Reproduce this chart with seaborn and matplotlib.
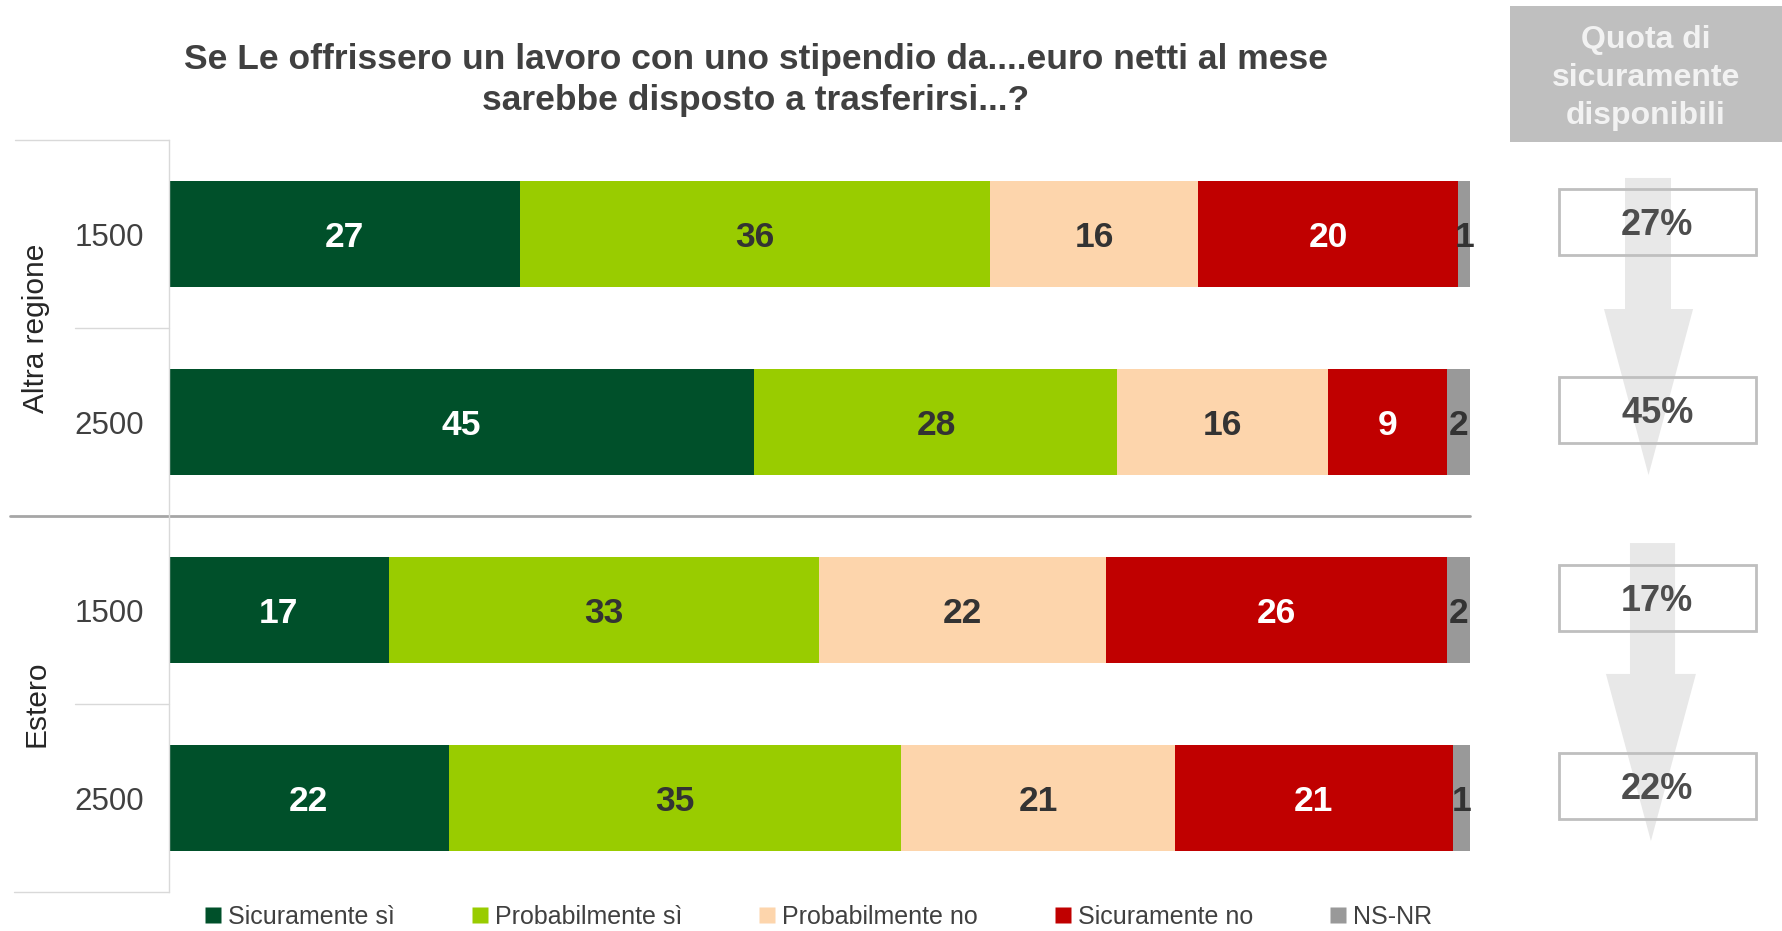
import pandas as pd
import seaborn as sns
import matplotlib.pyplot as plt
import matplotlib.transforms as mtransforms
from matplotlib.patches import Rectangle, Polygon
from matplotlib.lines import Line2D

sns.set_theme(style="white")
plt.rcParams['font.family'] = ['Liberation Sans', 'DejaVu Sans']

gruppi = ["Altra regione", "Altra regione", "Estero", "Estero"]
stipendio = ["1500", "2500", "1500", "2500"]
sicuramente_si = [27.0, 45.0, 16.9, 21.5]
probabilmente_si = [36.1, 27.9, 33.1, 34.8]
probabilmente_no = [16.0, 16.2, 22.0, 21.0]
sicuramente_no = [20.0, 9.1, 26.2, 21.4]
ns_nr = [0.9, 1.8, 1.8, 1.3]

risposte = ["Sicuramente sì", "Probabilmente sì", "Probabilmente no", "Sicuramente no", "NS-NR"]
colori = ["#00502a", "#99cc00", "#fdd5ac", "#c00000", "#999999"]
colori_testo = ["white", "#333333", "#333333", "white", "#333333"]

df = pd.DataFrame({
    "riga": [g + " " + s for g, s in zip(gruppi, stipendio)],
    risposte[0]: sicuramente_si,
    risposte[1]: probabilmente_si,
    risposte[2]: probabilmente_no,
    risposte[3]: sicuramente_no,
    risposte[4]: ns_nr,
})
cum = df[risposte].cumsum(axis=1)
for r in risposte:
    df["cum_" + r] = cum[r]


def arrotonda(v):
    return int(v + 0.5)


fig = plt.figure(figsize=(17.82, 9.31), dpi=100)
ax = fig.add_axes([169 / 1782, 1 - 892 / 931, 1301 / 1782, 752 / 931])

# barre sovrapposte (dalla più lunga alla più corta)
for r, c in reversed(list(zip(risposte, colori))):
    sns.barplot(data=df, x="cum_" + r, y="riga", color=c, saturation=1,
                width=0.56, linewidth=0, errorbar=None, orient="h", ax=ax)

# etichette dei segmenti
for i in range(len(df)):
    start = 0
    for r, tc in zip(risposte, colori_testo):
        v = df.loc[i, r]
        ax.text(start + v / 2, i, f"{arrotonda(v)}", ha="center", va="center_baseline",
                fontsize=25.5, fontweight="bold", color=tc, clip_on=False)
        start += v

ax.set_xlim(0, 100)
ax.set_ylim(3.5, -0.5)
ax.set_xlabel("")
ax.set_ylabel("")
ax.set_xticks([])
ax.set_yticks(range(len(df)))
ax.set_yticklabels(stipendio, fontsize=22.5, color="#404040")
ax.tick_params(axis="y", length=0, pad=18)
for s in ["top", "right", "bottom"]:
    ax.spines[s].set_visible(False)
ax.spines["left"].set_color("#d9d9d9")
ax.spines["left"].set_linewidth(1)

# cornice categorie a sinistra
yt = ax.get_yaxis_transform()
for y0, x0 in [(-0.5, -0.118), (0.5, -0.072), (2.5, -0.072), (3.5, -0.119)]:
    ax.add_line(Line2D([x0, 0], [y0, y0], transform=yt, color="#d9d9d9", lw=1, clip_on=False))
ax.add_line(Line2D([-0.122, 1], [1.5, 1.5], transform=yt, color="#a6a6a6", lw=2, clip_on=False))
for y0, g in [(0.5, "Altra regione"), (2.5, "Estero")]:
    ax.text(-0.102, y0, g, transform=yt, rotation=90, ha="center", va="center",
            fontsize=21.5, color="#262626")

# titolo
fig.text(0.424, 0.914, "Se Le offrissero un lavoro con uno stipendio da....euro netti al mese\n"
         "sarebbe disposto a trasferirsi...?", ha="center", va="center",
         fontsize=25.5, fontweight="bold", color="#404040", linespacing=1.3)

# pannello destro
fig.patches.append(Rectangle((1510 / 1782, 1 - 142 / 931), 272 / 1782, 136 / 931,
                             transform=fig.transFigure, facecolor="#bfbfbf", edgecolor="none"))
fig.text(0.9237, 0.916, "Quota di\nsicuramente\ndisponibili", ha="center", va="center",
         fontsize=23, fontweight="bold", color="#f2f2f2", linespacing=1.36)

bt = mtransforms.blended_transform_factory(fig.transFigure, ax.transData)
frecce = [
    (0.9119, 0.9377, 0.9001, 0.9501, -0.298, 0.399, 1.282),
    (0.9147, 0.9400, 0.9012, 0.9517, 1.644, 2.340, 3.229),
]
for sx0, sx1, hx0, hx1, ytop, yhead, ytip in frecce:
    pts = [(sx0, ytop), (sx1, ytop), (sx1, yhead), (hx1, yhead),
           ((hx0 + hx1) / 2, ytip), (hx0, yhead), (sx0, yhead)]
    ax.add_patch(Polygon(pts, closed=True, transform=bt, facecolor="#e8e8e8",
                         edgecolor="none", clip_on=False, zorder=0.5))

for i, q in enumerate(sicuramente_si):
    yc = i - 0.065
    ax.add_patch(Rectangle((0.8749, yc - 0.175), 0.1105, 0.35, transform=bt,
                           facecolor="none", edgecolor="#bfbfbf", lw=2, clip_on=False))
    ax.text(0.930, yc, f"{arrotonda(q)}%", transform=bt, ha="center", va="center_baseline",
            fontsize=26, fontweight="bold", color="#4d4d4d", clip_on=False)

# legenda
handles = [Line2D([], [], marker="s", linestyle="none", markersize=11,
                  markerfacecolor=c, markeredgecolor="none") for c in colori]
fig.legend(handles, risposte, loc="center", bbox_to_anchor=(0.4595, 0.015), ncol=5,
           frameon=False, fontsize=18, labelcolor="#404040", handlelength=0.6,
           handletextpad=0.3, columnspacing=3.1, borderaxespad=0, borderpad=0)

plt.savefig("out.png", dpi=100)
plt.close()
